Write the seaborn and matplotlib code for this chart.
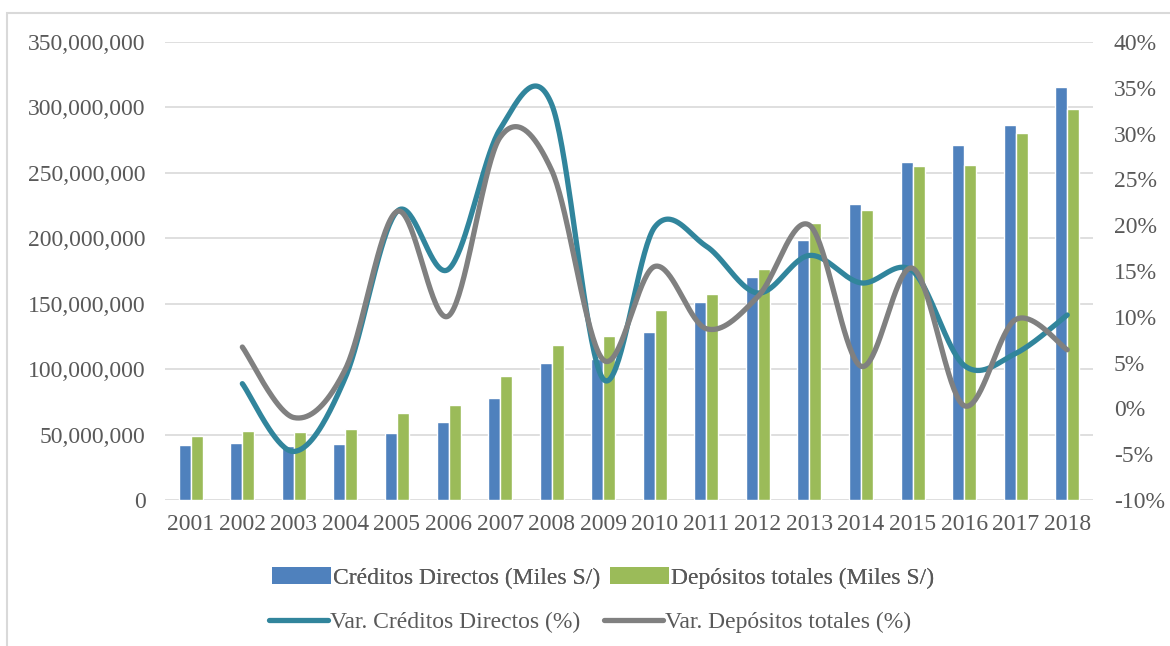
import numpy as np
import pandas as pd
import matplotlib
matplotlib.use("Agg")
import matplotlib.pyplot as plt
from matplotlib.patches import Patch, Rectangle
from matplotlib.lines import Line2D
from matplotlib.ticker import FuncFormatter, MultipleLocator
import seaborn as sns

# ---------------- data ----------------
years = [str(y) for y in range(2001, 2019)]
creditos = [42.0, 43.3, 41.5, 42.6, 51.5, 59.4, 78.0, 104.5, 107.8, 128.7,
            151.6, 170.5, 198.8, 226.3, 258.6, 271.4, 286.7, 315.7]  # millions
depositos = [49.2, 52.5, 52.0, 54.5, 66.3, 72.6, 94.6, 118.7, 125.4, 145.0,
             157.7, 176.8, 212.0, 221.7, 255.6, 256.1, 280.6, 298.7]  # millions
var_creditos = [2.7, -4.7, 3.4, 21.5, 15.2, 30.5, 33.2, 3.2, 19.8,
                17.7, 12.6, 16.7, 13.7, 15.0, 4.7, 6.0, 10.2]  # %, 2002-2018
var_depositos = [6.7, -1.0, 4.3, 21.5, 10.1, 29.6, 26.0, 5.3, 15.5,
                 8.7, 12.2, 20.0, 4.6, 15.3, 0.3, 9.7, 6.4]  # %, 2002-2018

lbl_c = "Créditos Directos (Miles S/)"
lbl_d = "Depósitos totales (Miles S/)"
lbl_vc = "Var. Créditos Directos (%)"
lbl_vd = "Var. Depósitos totales (%)"

c_blue = "#4F81BD"
c_green = "#9BBB59"
c_teal = "#31859C"
c_gray = "#808080"
txt = "#595959"

# ---------------- style ----------------
sns.set_theme(style="white")
plt.rcParams["font.family"] = ["Liberation Serif", "DejaVu Serif"]
plt.rcParams["font.size"] = 17

fig = plt.figure(figsize=(11.7, 6.46), dpi=100)
ax = fig.add_axes([165 / 1170, 1 - 500 / 646, (1093 - 165) / 1170, (500 - 42) / 646])

df = pd.DataFrame({
    "Año": years * 2,
    "Valor": [v * 1e6 for v in creditos] + [v * 1e6 for v in depositos],
    "Serie": [lbl_c] * len(years) + [lbl_d] * len(years),
})
sns.barplot(data=df, x="Año", y="Valor", hue="Serie", ax=ax,
            palette=[c_blue, c_green], width=0.465, gap=0, legend=False,
            saturation=1, errorbar=None, zorder=2)

ax.set_ylim(0, 350e6)
ax.yaxis.set_major_locator(MultipleLocator(50e6))
ax.yaxis.set_major_formatter(FuncFormatter(lambda v, p: f"{int(v):,}"))
ax.set_xlim(-0.5, len(years) - 0.5)
ax.grid(axis="y", color="#D9D9D9", lw=1.2, zorder=0)
ax.grid(axis="x", visible=False)
ax.set_axisbelow(True)
for s in ax.spines.values():
    s.set_visible(False)
ax.set_xlabel("")
ax.set_ylabel("")
ax.tick_params(axis="y", length=0, pad=14, labelcolor=txt, labelsize=17)
ax.tick_params(axis="x", length=0, pad=10, labelcolor=txt, labelsize=17)


def smooth(xv, yv, n=40):
    # Bezier smoothing (Catmull-Rom style), as in spreadsheet "smoothed lines"
    P = np.column_stack([xv, yv]).astype(float)
    ext = np.vstack([P[0], P, P[-1]])
    out = []
    for i in range(len(P) - 1):
        p0, p1, p2, p3 = ext[i], ext[i + 1], ext[i + 2], ext[i + 3]
        c1 = p1 + (p2 - p0) / 6.0
        c2 = p2 - (p3 - p1) / 6.0
        t = np.linspace(0, 1, n, endpoint=(i == len(P) - 2))[:, None]
        seg = ((1 - t) ** 3) * p1 + 3 * ((1 - t) ** 2) * t * c1 + 3 * (1 - t) * t ** 2 * c2 + t ** 3 * p2
        out.append(seg)
    out = np.vstack(out)
    return out[:, 0], out[:, 1]


ax2 = ax.twinx()
xpos = np.arange(1, len(years))
for vals, col in [(var_creditos, c_teal), (var_depositos, c_gray)]:
    sx, sy = smooth(xpos, vals)
    sns.lineplot(x=sx, y=sy, ax=ax2, color=col, lw=3.8, sort=False,
                 estimator=None, solid_capstyle="round", zorder=3)
ax2.set_ylim(-10, 40)
ax2.yaxis.set_major_locator(MultipleLocator(5))
ax2.yaxis.set_major_formatter(FuncFormatter(lambda v, p: f"{int(round(v))}%"))
ax2.tick_params(axis="y", length=0, pad=15, labelcolor=txt, labelsize=17)
ax2.grid(False)
for s in ax2.spines.values():
    s.set_visible(False)
ax2.set_ylabel("")

# legends
h1 = [Patch(facecolor=c_blue, edgecolor="none"), Patch(facecolor=c_green, edgecolor="none")]
h2 = [Line2D([], [], color=c_teal, lw=3.8, solid_capstyle="round"),
      Line2D([], [], color=c_gray, lw=3.8, solid_capstyle="round")]
leg1 = fig.legend(h1, [lbl_c, lbl_d], loc="center", bbox_to_anchor=(603 / 1170, 1 - 578 / 646),
                  ncol=2, frameon=False, fontsize=17, handlelength=2.5, handleheight=0.7,
                  handletextpad=0.08, columnspacing=0.4, labelcolor=txt)
leg2 = fig.legend(h2, [lbl_vc, lbl_vd], loc="center", bbox_to_anchor=(590 / 1170, 1 - 622 / 646),
                  ncol=2, frameon=False, fontsize=17, handlelength=2.5,
                  handletextpad=0.08, columnspacing=1.0, labelcolor=txt)
fig.add_artist(leg1)

# outer chart border
fig.patches.append(Rectangle((7 / 1170, -0.1), 1.2, 1 - 13 / 646 + 0.1, transform=fig.transFigure,
                             fill=False, edgecolor="#D9D9D9", lw=1.5))

fig.savefig("out.png", dpi=100, facecolor="white")
